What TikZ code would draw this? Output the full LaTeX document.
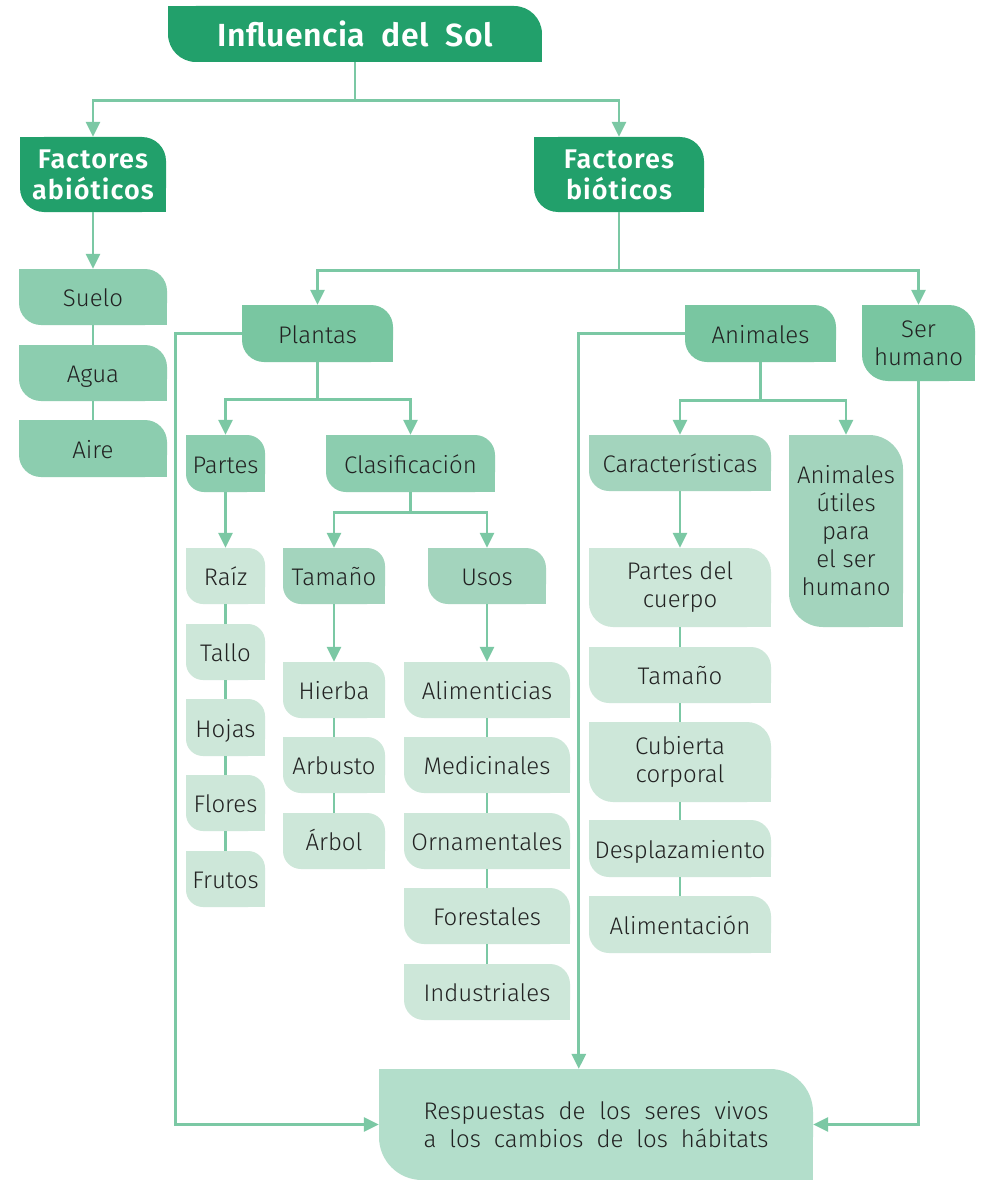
\documentclass[tikz,border=0pt]{standalone}
\usepackage{fontspec}
\setmainfont{Fira Sans}[UprightFont=* Light, BoldFont=* SemiBold]
\usetikzlibrary{arrows.meta}

\definecolor{cDark}{HTML}{22A06B}
\definecolor{cMid}{HTML}{79C6A1}
\definecolor{cSoft}{HTML}{8CCDAF}
\definecolor{cPale}{HTML}{A3D4BD}
\definecolor{cLight}{HTML}{CDE7D9}
\definecolor{cBase}{HTML}{B3DECB}
\definecolor{cLine}{HTML}{7BC8A4}
\definecolor{cInk}{HTML}{222222}

% leaf-shaped box: rounded top-right and bottom-left corners
% #1 name, #2 style, #3 x1, #4 y1, #5 x2, #6 y2, #7 radius, #8 text
\newcommand\leaf[8]{%
  \path[#2, rounded corners=#7pt] (#3,#4) rectangle (#5,#6);
  \path[#2] (#3,#4) rectangle ++(#7,#7);
  \path[#2] (#5,#6) rectangle ++(-#7,-#7);
  \node[#2, fill=none, draw=none, inner sep=0pt, align=center,
        minimum width={(#5-#3)*1pt}, minimum height={(#6-#4)*1pt}]
        (#1) at ({(#3+#5)/2},{(#4+#6)/2}) {#8};
}
% a line of text spread to a fixed width
\newcommand\spread[1]{\makebox[345pt][s]{#1}}

\tikzset{
  bxInk/.style={text=cInk, font=\fontsize{24}{28}\selectfont,
                text height=21pt, text depth=2pt},
  multi/.style={text height={}, text depth={}},
  bxTitle/.style={fill=cDark, text=white, font=\fontsize{32}{36}\selectfont\bfseries\addfontfeatures{LetterSpace=1.5}},
  bxHead/.style={fill=cDark, text=white, font=\fontsize{27}{31}\selectfont\bfseries\addfontfeatures{LetterSpace=4}},
  bxMid/.style={fill=cMid, bxInk},
  bxSoft/.style={fill=cSoft, bxInk},
  bxPale/.style={fill=cPale, bxInk},
  bxLight/.style={fill=cLight, bxInk},
  bxBase/.style={fill=cBase, bxInk},
  ln/.style={draw=cLine, line width=2.8pt},
  arr/.style={ln, -{Triangle[length=15pt,width=14pt]}},
}

\begin{document}
\begin{tikzpicture}[x=1pt, y=-1pt]
\useasboundingbox[fill=white] (0,0) rectangle (981,1180);

% top levels
\leaf{sol}{bxTitle}{168}{6}{542}{62}{28}{Influencia\ \ del\ \ Sol}
\leaf{abio}{bxHead}{20}{137}{166}{212}{24}{Factores\\abióticos}
\leaf{bio}{bxHead}{534}{137}{704}{212}{24}{Factores\\bióticos}

% abiotic factors
\leaf{suelo}{bxSoft}{19}{269}{167}{325}{22}{Suelo}
\leaf{agua}{bxSoft}{19}{345}{167}{401}{22}{Agua}
\leaf{aire}{bxSoft}{19}{420}{167}{477}{22}{Aire}

% biotic factors
\leaf{plantas}{bxMid}{242}{305}{393}{362}{22}{Plantas}
\leaf{animales}{bxMid}{685}{305}{836}{362}{22}{Animales}
\leaf{ser}{bxMid,multi}{862}{305}{975}{381}{26}{Ser\\humano}

% plants
\leaf{partes}{bxSoft}{186}{435}{265}{492}{18}{Partes}
\leaf{clasif}{bxSoft}{326}{435}{495}{492}{20}{Clasificación}
\leaf{raiz}{bxLight}{186}{548}{265}{604}{17}{Raíz}
\leaf{tallo}{bxLight}{186}{624}{265}{680}{17}{Tallo}
\leaf{hojas}{bxLight}{186}{699}{265}{756}{17}{Hojas}
\leaf{flores}{bxLight}{186}{775}{265}{831}{17}{Flores}
\leaf{frutos}{bxLight}{186}{851}{265}{907}{17}{Frutos}
\leaf{tamP}{bxPale}{283}{548}{385}{604}{18}{Tamaño}
\leaf{usos}{bxPale}{428}{548}{546}{604}{20}{Usos}
\leaf{hierba}{bxLight}{283}{662}{385}{718}{18}{Hierba}
\leaf{arbusto}{bxLight}{283}{737}{385}{793}{18}{Arbusto}
\leaf{arbol}{bxLight}{283}{813}{385}{869}{18}{Árbol}
\leaf{alim}{bxLight}{404}{662}{570}{718}{20}{Alimenticias}
\leaf{medic}{bxLight}{404}{737}{570}{793}{20}{Medicinales}
\leaf{ornam}{bxLight}{404}{813}{570}{869}{20}{Ornamentales}
\leaf{forest}{bxLight}{404}{888}{570}{944}{20}{Forestales}
\leaf{indus}{bxLight}{404}{964}{570}{1020}{20}{Industriales}

% animals
\leaf{caract}{bxPale}{589}{435}{771}{491}{20}{Características}
\leaf{utiles}{bxPale,multi}{789}{435}{903}{627}{34}{Animales\\útiles\\para\\el ser\\humano}
\leaf{cuerpo}{bxLight,multi}{589}{548}{771}{627}{24}{Partes del\\cuerpo}
\leaf{tamA}{bxLight}{589}{647}{771}{703}{20}{Tamaño}
\leaf{cubierta}{bxLight,multi}{589}{722}{771}{802}{24}{Cubierta\\corporal}
\leaf{despl}{bxLight}{589}{820}{771}{877}{20}{Desplazamiento}
\leaf{alimA}{bxLight}{589}{896}{771}{953}{20}{Alimentación}

% responses
\leaf{resp}{bxBase,multi}{379}{1069}{813}{1180}{43}{\spread{Respuestas de los seres vivos}\\\spread{a los cambios de los hábitats}}

% connectors
\draw[arr] (sol.south) -- ++(0,38) -| (abio.north);
\draw[arr] (sol.south) -- ++(0,38) -| (bio.north);
\draw[arr] (abio.south) -- (suelo.north);
\draw[ln] (suelo) -- (agua);
\draw[ln] (agua) -- (aire);

\draw[arr] (bio.south) -- ++(0,58) -| (plantas.north);
\draw[arr] (bio.south) -- ++(0,58) -| (ser.north);

\draw[arr] (plantas.west) -- ++(-66,0) |- (resp.west);
\draw[arr] (animales.west) -- ++(-106,0) coordinate (aw) -- (aw |- resp.north);
\draw[arr] (ser.south) |- (resp.east);

\draw[arr] (plantas.south) -- ++(0,37) -| (partes.north);
\draw[arr] (plantas.south) -- ++(0,37) -| (clasif.north);
\draw[arr] (partes.south) -- (raiz.north);
\draw[ln] (raiz) -- (tallo);
\draw[ln] (tallo) -- (hojas);
\draw[ln] (hojas) -- (flores);
\draw[ln] (flores) -- (frutos);

\draw[arr] (clasif.south) -- ++(0,20) -| (tamP.north);
\draw[arr] (clasif.south) -- ++(0,20) -| (usos.north);
\draw[arr] (tamP.south) -- (hierba.north);
\draw[ln] (hierba) -- (arbusto);
\draw[ln] (arbusto) -- (arbol);
\draw[arr] (usos.south) -- (alim.north);
\draw[ln] (alim) -- (medic);
\draw[ln] (medic) -- (ornam);
\draw[ln] (ornam) -- (forest);
\draw[ln] (forest) -- (indus);

\draw[arr] (animales.south) -- ++(0,38) -| (caract.north);
\draw[arr] (animales.south) -- ++(0,38) -| (utiles.north);
\draw[arr] (caract.south) -- (cuerpo.north);
\draw[ln] (cuerpo) -- (tamA);
\draw[ln] (tamA) -- (cubierta);
\draw[ln] (cubierta) -- (despl);
\draw[ln] (despl) -- (alimA);
\end{tikzpicture}
\end{document}
